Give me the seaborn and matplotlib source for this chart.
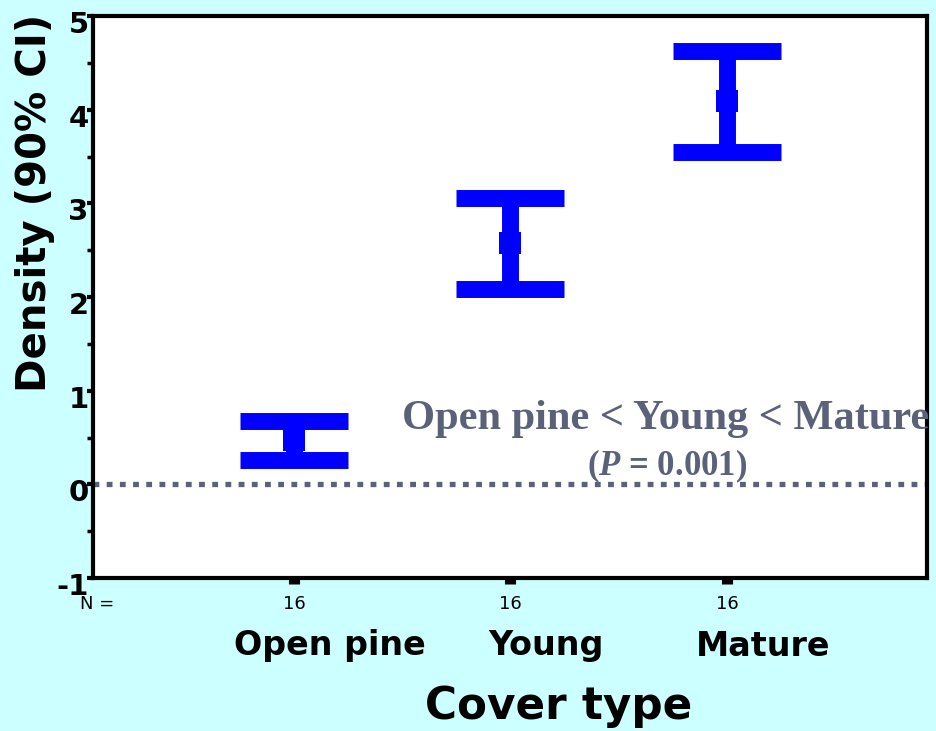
import matplotlib
matplotlib.use("Agg")
import matplotlib.pyplot as plt
import matplotlib.transforms as mtransforms
import seaborn as sns
import pandas as pd

# Density by cover type: means with 90% confidence limits
cover_types = ["Open pine", "Young", "Mature"]
density_mean = [0.47, 2.58, 4.09]
ci_lower = [0.26, 2.09, 3.55]
ci_upper = [0.68, 3.06, 4.63]
n_per_group = [16, 16, 16]
y_ticks = [-1, 0, 1, 2, 3, 4, 5]

df = pd.DataFrame({"cover": cover_types, "mean": density_mean,
                   "lo": ci_lower, "hi": ci_upper})

sns.set_style("white")
plt.rcParams["font.family"] = ["DejaVu Sans"]
plt.rcParams["text.color"] = "black"
plt.rcParams["xtick.color"] = "black"
plt.rcParams["ytick.color"] = "black"
plt.rcParams["mathtext.fontset"] = "custom"
plt.rcParams["mathtext.rm"] = "Liberation Serif:bold"
plt.rcParams["mathtext.it"] = "Liberation Serif:italic:bold"

bg = "#CCFFFF"
bar_color = "#0000FF"
note_color = "#5A6178"
serif = ["Liberation Serif", "DejaVu Serif"]

fig = plt.figure(figsize=(9.36, 7.31), dpi=100, facecolor=bg)
ax = fig.add_axes([0.0994, 0.2093, 0.8910, 0.7688])
ax.set_facecolor("white")

# reference line at zero
ax.axhline(0, color=note_color, lw=3.8, linestyle=(0, (1.1, 1.4)), zorder=1)

# confidence interval bars
ax.errorbar(df.index, df["mean"],
            yerr=[df["mean"] - df["lo"], df["hi"] - df["mean"]],
            fmt="none", ecolor=bar_color, elinewidth=12.2,
            capsize=39, capthick=12.2, zorder=3)

# group means
sns.scatterplot(data=df, x="cover", y="mean", marker="s", s=235,
                color=bar_color, linewidth=0, ax=ax, zorder=4, legend=False)

ax.set_xlim(-0.928, 2.924)
ax.set_ylim(-1, 5)
ax.set_yticks(y_ticks)
ax.set_yticklabels([str(t) for t in y_ticks], fontsize=21, fontweight="bold")
ax.set_yticks([-0.5, 0.5, 1.5, 2.5, 3.5, 4.5], minor=True)
ax.tick_params(axis="y", which="major", direction="out", length=4, width=3,
               pad=-1, left=True)
ax.tick_params(axis="y", which="minor", direction="out", length=4, width=2.5,
               left=True)
ytick_shift = mtransforms.ScaledTranslation(0, -6 / 100, fig.dpi_scale_trans)
for lab in ax.get_yticklabels():
    lab.set_transform(lab.get_transform() + ytick_shift)
ax.set_xticks(range(len(cover_types)))
ax.set_xticklabels([])
ax.tick_params(axis="x", which="major", direction="out", length=4, width=8,
               bottom=True)

for side in ["left", "right", "top", "bottom"]:
    ax.spines[side].set_color("black")
    ax.spines[side].set_linewidth(3)

ax.set_xlabel("")
ax.set_ylabel("")

# N row and category names below the axis
trans_x = mtransforms.blended_transform_factory(ax.transData, fig.transFigure)
name_shift = mtransforms.ScaledTranslation(0.36, 0, fig.dpi_scale_trans)
fig.text(80 / 936, 1 - 604 / 731, "N =", fontsize=13, va="center", ha="left")
for i, (name, n) in enumerate(zip(cover_types, n_per_group)):
    ax.text(i, 1 - 604 / 731, str(n), transform=trans_x, fontsize=13,
            ha="center", va="center")
    ax.text(i, 1 - 646 / 731, name, transform=trans_x + name_shift,
            fontsize=24, fontweight="bold", ha="center", va="center")

fig.text(559 / 936, 1 - 707 / 731, "Cover type", fontsize=31.5,
         fontweight="bold", ha="center", va="center")
fig.text(35 / 936, 1 - 203 / 731, "Density (90% CI)", fontsize=29,
         fontweight="bold", rotation=90, ha="center", va="center")

# comparison note
fig.text(666 / 936, 1 - 419 / 731, "Open pine < Young < Mature",
         fontsize=30.5, fontweight="bold", color=note_color, family=serif,
         ha="center", va="center")
fig.text(667 / 936, 1 - 466 / 731, r"($\mathit{P}$ = 0.001)",
         fontsize=25, fontweight="bold", color=note_color, family=serif,
         ha="center", va="center")

fig.savefig("out.png", dpi=100, facecolor=bg)
